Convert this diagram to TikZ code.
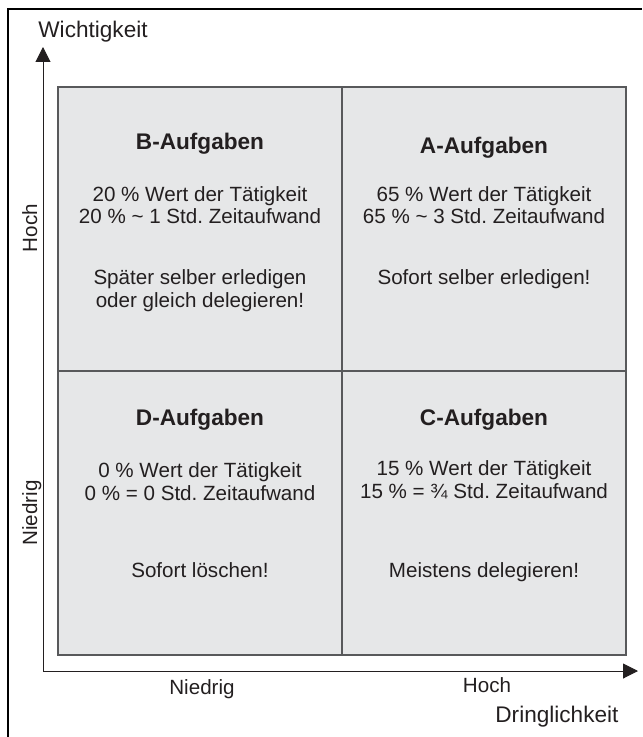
\documentclass[tikz,border=0pt]{standalone}
\usepackage{fontspec}
\setmainfont{Liberation Sans}
\usetikzlibrary{arrows.meta}
\definecolor{ink}{HTML}{231F20}
\definecolor{quadfill}{HTML}{E6E7E8}
\definecolor{quadline}{HTML}{58595B}
\frenchspacing
\begin{document}
\begin{tikzpicture}[x=0.5pt,y=-0.5pt,
    quad/.style={shape=rectangle,draw=quadline,fill=quadfill,line width=0.7pt,minimum width=142pt,minimum height=142pt,inner sep=0pt},
    title/.style={anchor=base,text=ink,font=\fontsize{11.3}{13}\selectfont\bfseries},
    body/.style={anchor=base,text=ink,align=center,font=\fontsize{10.3}{11.3}\selectfont},
    axislabel/.style={text=ink,inner sep=0pt,font=\fontsize{10.3}{12}\selectfont},
    axistitle/.style={text=ink,inner sep=0pt,font=\fontsize{11.3}{13}\selectfont},
    axis/.style={draw=ink,line width=0.5pt,-{Triangle[width=7.5pt,length=7.5pt]}}]
    \useasboundingbox (0,0) rectangle (642,737);
    % frame
    \draw[line width=1.4pt] (8,737) -- (8,9) -- (642,9);

    % quadrants
    \node[quad] (B) at (200,229) {};
    \node[quad] (A) at (484,229) {};
    \node[quad] (D) at (200,513) {};
    \node[quad] (C) at (484,513) {};

    % axes
    \coordinate (origin) at (43,671);
    \coordinate (ytip) at (43,47);
    \coordinate (xtip) at (638,671);
    \draw[axis] (origin) -- (ytip);
    \draw[axis] (origin) -- (xtip);

    \node[axistitle,anchor=base west] (wichtigkeit) at (38,38) {Wichtigkeit};
    \node[axistitle,anchor=base west] (dringlichkeit) at (495,722) {Dringlichkeit};
    \node[axislabel,anchor=base] (x-low) at (202,694) {Niedrig};
    \node[axislabel,anchor=base] (x-high) at (487,692) {Hoch};
    \node[axislabel,anchor=base,rotate=90] (y-high) at (37,228) {Hoch};
    \node[axislabel,anchor=base,rotate=90] (y-low) at (37,513) {Niedrig};

    % B (two-line nodes sit on their last line)
    \node[title] (B-title) at (200,150) {B-Aufgaben};
    \node[body] (B-wert) at (200,224) {20 \% Wert der Tätigkeit\\20 \% \textasciitilde{} 1 Std. Zeitaufwand};
    \node[body] (B-tun) at (200,307) {Später selber erledigen\\oder gleich delegieren!};
    % A
    \node[title] (A-title) at (484,154) {A-Aufgaben};
    \node[body] (A-wert) at (484,224) {65 \% Wert der Tätigkeit\\65 \% \textasciitilde{} 3 Std. Zeitaufwand};
    \node[body] (A-tun) at (484,285) {Sofort selber erledigen!};
    % D
    \node[title] (D-title) at (200,425) {D-Aufgaben};
    \node[body] (D-wert) at (200,500) {0 \% Wert der Tätigkeit\\0 \% = 0 Std. Zeitaufwand};
    \node[body] (D-tun) at (200,577) {Sofort löschen!};
    % C
    \node[title] (C-title) at (484,425) {C-Aufgaben};
    \node[body] (C-wert) at (484,498) {15 \% Wert der Tätigkeit\\15 \% = ¾ Std. Zeitaufwand};
    \node[body] (C-tun) at (484,577) {Meistens delegieren!};
\end{tikzpicture}
\end{document}
